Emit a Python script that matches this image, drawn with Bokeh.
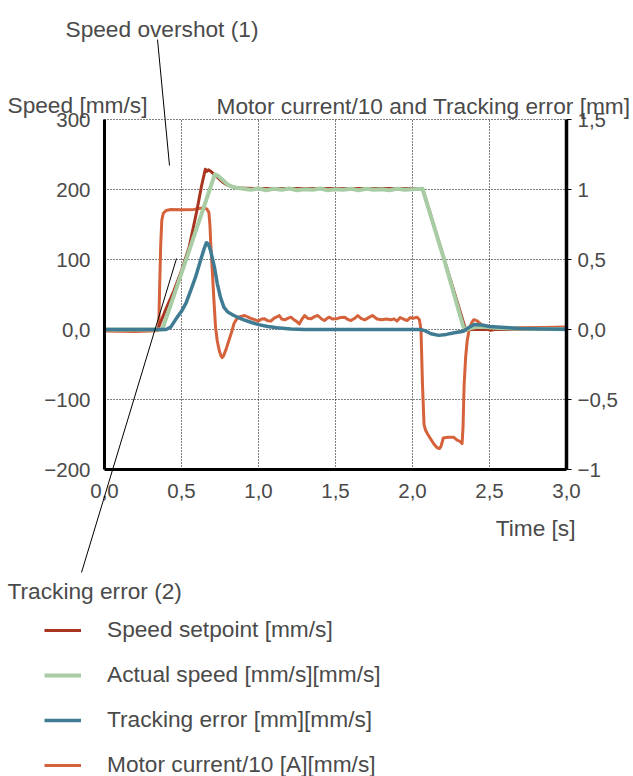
from bokeh.plotting import figure
from bokeh.models import Range1d, LinearAxis, FixedTicker, Legend, LegendItem, Label, Arrow
from bokeh.embed import file_html
from bokeh.resources import INLINE

# ---------------- data ----------------
x_ticks = [0.0, 0.5, 1.0, 1.5, 2.0, 2.5, 3.0]
x_labels = ["0,0", "0,5", "1,0", "1,5", "2,0", "2,5", "3,0"]
y_left_ticks = [-200, -100, 0, 100, 200, 300]
y_left_labels = ["\u2212200", "\u2212100", "0,0", "100", "200", "300"]
y_right_ticks = [-1.0, -0.5, 0.0, 0.5, 1.0, 1.5]
y_right_labels = ["\u22121", "\u22120,5", "0,0", "0,5", "1", "1,5"]

# Speed setpoint [mm/s]
t_setpoint = [0.0, 0.345, 0.40, 0.45, 0.50, 0.55, 0.60, 0.63, 0.655, 0.665, 0.675, 0.69,
              0.705, 0.735, 0.77, 0.80, 0.866, 1.0, 1.5, 2.065, 2.345, 3.0]
v_setpoint = [0, 0, 30, 55, 84, 118, 170, 205, 229, 226, 228, 226,
              223, 217, 210, 206, 202, 201.5, 201.5, 201.5, 0, 0]

# Actual speed [mm/s]
t_actual = [0.0, 0.375, 0.45, 0.55, 0.65, 0.715, 0.725, 0.74, 0.76, 0.78, 0.80, 0.83, 0.87,
            0.90, 0.95, 1.0, 1.05, 1.1, 1.15, 1.2, 1.25, 1.3, 1.35, 1.4, 1.45, 1.5, 1.55,
            1.6, 1.65, 1.7, 1.75, 1.8, 1.85, 1.9, 1.95, 2.0, 2.065, 2.20, 2.33, 2.345,
            2.38, 2.42, 2.47, 2.55, 2.7, 3.0]
v_actual = [0, 0, 48, 113, 178, 221, 221, 219, 215, 211, 207, 204, 202,
            201, 199.5, 201.5, 199, 201, 199.5, 201.5, 199, 200.5, 199.5, 201.5, 199, 200.5, 199.5,
            201, 199, 201, 199.5, 200.5, 199, 201, 199.5, 200.5, 201, 104, 4, -1,
            2, 4, 3.5, 2, 1, 0.5]

# Tracking error [mm] (right axis)
t_error = [0.0, 0.40, 0.43, 0.47, 0.50, 0.53, 0.56, 0.59, 0.62, 0.645, 0.662, 0.675, 0.69,
           0.70, 0.714, 0.732, 0.753, 0.775, 0.80, 0.84, 0.90, 0.95, 1.0, 1.06, 1.12, 1.21,
           1.30, 2.05, 2.08, 2.12, 2.17, 2.22, 2.28, 2.33, 2.36, 2.40, 2.45, 2.50, 2.60,
           2.70, 2.85, 3.0]
v_error = [0.0, 0.0, 0.017, 0.085, 0.13, 0.19, 0.28, 0.37, 0.48, 0.57, 0.62, 0.61, 0.56,
           0.51, 0.445, 0.33, 0.23, 0.16, 0.125, 0.10, 0.07, 0.052, 0.035, 0.021, 0.012, 0.004,
           0.0, 0.0, -0.008, -0.03, -0.042, -0.035, -0.022, -0.012, 0.01, 0.036, 0.032, 0.022, 0.014,
           0.008, 0.004, 0.002]

# Motor current/10 [A] (right axis)
t_current = [0.0, 0.10, 0.20, 0.30, 0.345, 0.352, 0.358, 0.365, 0.372, 0.382, 0.40, 0.43,
             0.50, 0.58, 0.645, 0.665, 0.678, 0.685, 0.69, 0.70, 0.71, 0.721, 0.732, 0.745,
             0.757, 0.764, 0.772, 0.79, 0.807, 0.825, 0.84, 0.855, 0.875, 0.91,
             0.95, 0.975, 1.0, 1.02, 1.04, 1.06, 1.08, 1.10, 1.135, 1.15, 1.17, 1.19, 1.21,
             1.23, 1.245, 1.265, 1.28, 1.30, 1.32, 1.34, 1.36, 1.385, 1.41, 1.43, 1.445,
             1.46, 1.48, 1.505, 1.53, 1.56, 1.58, 1.60, 1.625, 1.645, 1.665, 1.69, 1.715,
             1.74, 1.77, 1.80, 1.83, 1.86, 1.88, 1.90, 1.92, 1.94, 1.965, 1.985, 2.005, 2.03,
             2.045, 2.055, 2.065, 2.075, 2.085, 2.10, 2.117, 2.14, 2.16, 2.175, 2.185, 2.20,
             2.23, 2.268, 2.29, 2.31, 2.322, 2.328, 2.335, 2.345, 2.355, 2.37, 2.385, 2.398,
             2.42, 2.442, 2.475, 2.505, 2.55, 2.7, 2.85, 3.0]
v_current = [-0.01, -0.012, -0.015, -0.01, -0.008, 0.0, 0.3, 0.6, 0.78, 0.83, 0.85, 0.857,
             0.856, 0.858, 0.87, 0.86, 0.835, 0.74, 0.61, 0.42, 0.22, 0.017, -0.08, -0.15,
             -0.19, -0.2, -0.19, -0.14, -0.08, -0.02, 0.04, 0.07, 0.09, 0.10,
             0.08, 0.07, 0.06, 0.075, 0.076, 0.062, 0.06, 0.08, 0.10, 0.075, 0.069, 0.08, 0.088,
             0.07, 0.06, 0.04, 0.07, 0.10, 0.08, 0.076, 0.09, 0.10, 0.075, 0.064, 0.08,
             0.088, 0.075, 0.076, 0.085, 0.088, 0.072, 0.064, 0.08, 0.10, 0.08, 0.069, 0.085,
             0.10, 0.075, 0.069, 0.075, 0.069, 0.076, 0.06, 0.085, 0.075, 0.064, 0.085, 0.08, 0.088,
             0.07, 0.0, -0.4, -0.68, -0.72, -0.75, -0.78, -0.82, -0.845, -0.85, -0.835, -0.775,
             -0.77, -0.77, -0.79, -0.80, -0.815, -0.7, -0.4, -0.2, -0.08, 0.01, 0.05, 0.07,
             0.062, 0.04, 0.01, -0.007, 0.005, 0.012, 0.015, 0.017]

series_names = ["Speed setpoint [mm/s]", "Actual speed [mm/s][mm/s]",
                "Tracking error [mm][mm/s]", "Motor current/10 [A][mm/s]"]

# ---------------- style ----------------
RED = "#a9341f"
GREEN = "#a8cca4"
BLUE = "#3f7c93"
ORANGE = "#d5623b"
TEXT = "#4a4a4a"
FONT = "Liberation Sans"
TEXT_SIZE = "22.7px"

X0, X1 = 0.0, 3.0
Y0, Y1 = -200.0, 300.0
R0, R1 = -1.0, 1.5

W, H = 633, 776
# pixel box of the chart area on the canvas
CL, CR, CT, CB = 104, 566, 119, 469

sx = (CR - CL) / (X1 - X0)
sy = (CB - CT) / (Y1 - Y0)
sr = (CB - CT) / (R1 - R0)


def px_to_x(px):
    return X0 + (px - CL) / sx


def py_to_y(py):
    return Y1 - (py - CT) / sy


p = figure(width=W, height=H, output_backend="svg", toolbar_location=None,
           x_range=Range1d(px_to_x(0), px_to_x(W)), y_range=Range1d(py_to_y(H), py_to_y(0)),
           x_axis_type=None, y_axis_type=None,
           min_border_left=0, min_border_right=0, min_border_top=0, min_border_bottom=0)
p.outline_line_color = None
p.background_fill_color = "white"
p.border_fill_color = "white"
p.grid.visible = False
p.extra_y_ranges = {"right": Range1d(R0 - (H - CB) / sr, R1 + CT / sr)}

# grid (dotted)
gx = x_ticks[1:-1]
p.segment(x0=gx, y0=[Y0] * len(gx), x1=gx, y1=[Y1] * len(gx),
          line_color="#000000", line_dash="1 2", line_width=1)
gy = y_left_ticks[1:]
p.segment(x0=[X0] * len(gy), y0=gy, x1=[X1] * len(gy), y1=gy,
          line_color="#000000", line_dash="1 2", line_width=1)

# axes at fixed locations
ya = LinearAxis(fixed_location=X0, bounds=(Y0, Y1), ticker=FixedTicker(ticks=y_left_ticks))
ya.major_label_overrides = dict(zip(y_left_ticks, y_left_labels))
xa = LinearAxis(fixed_location=Y0, bounds=(X0, X1), ticker=FixedTicker(ticks=x_ticks))
xa.major_label_overrides = dict(zip(x_ticks, x_labels))
ra = LinearAxis(fixed_location=X1, bounds=(R0, R1), y_range_name="right",
                ticker=FixedTicker(ticks=y_right_ticks))
ra.major_label_overrides = dict(zip(y_right_ticks, y_right_labels))

for ax in (xa, ya, ra):
    ax.axis_line_color = "black"
    ax.axis_line_width = 3
    ax.minor_tick_line_color = None
    ax.major_label_text_font = FONT
    ax.major_label_text_font_size = "20.5px"
    ax.major_label_text_color = TEXT
for ax in (xa, ya):
    ax.major_tick_line_color = None
    ax.major_tick_out = 0
    ax.major_tick_in = 0
ya.major_label_standoff = 14
xa.major_label_standoff = 14
ra.axis_line_width = 3.5
ra.major_tick_line_color = "black"
ra.major_tick_line_width = 1
ra.major_tick_out = 5
ra.major_tick_in = 0
ra.major_label_standoff = 6

# lines
r_cur = p.line(t_current, v_current, y_range_name="right", line_color=ORANGE, line_width=3,
               line_join="round")
r_set = p.line(t_setpoint, v_setpoint, line_color=RED, line_width=3, line_join="round")
r_act = p.line(t_actual, v_actual, line_color=GREEN, line_width=4, line_join="round")
r_err = p.line(t_error, v_error, y_range_name="right", line_color=BLUE, line_width=3.5,
               line_join="round")

p.add_layout(ya, "left")
p.add_layout(xa, "below")
p.add_layout(ra, "right")

# legend
legend = Legend(items=[LegendItem(label=series_names[0], renderers=[r_set]),
                       LegendItem(label=series_names[1], renderers=[r_act]),
                       LegendItem(label=series_names[2], renderers=[r_err]),
                       LegendItem(label=series_names[3], renderers=[r_cur])],
                location=(44, -2), orientation="vertical",
                glyph_width=37, glyph_height=26, label_height=26, label_standoff=26,
                spacing=18, padding=0, margin=0, border_line_color=None,
                background_fill_alpha=0, label_text_font=FONT, label_text_font_size=TEXT_SIZE,
                label_text_color=TEXT)
p.add_layout(legend)


# texts
def add_label(text, px, py, align="left"):
    p.add_layout(Label(x=px_to_x(px), y=py_to_y(py), text=text, text_font=FONT,
                       text_font_size=TEXT_SIZE, text_color=TEXT, text_align=align,
                       text_baseline="alphabetic"))


add_label("Speed [mm/s]", 7, 104)
add_label("Motor current/10 and Tracking error [mm]", 216, 105)
add_label("Speed overshot (1)", 65, 28)
add_label("Tracking error (2)", 7, 590)
add_label("Time [s]", 575, 527, align="right")

# pointer lines
for (x_a, y_a, x_b, y_b) in [(157, 39, 169, 165), (81, 572, 176, 258)]:
    p.add_layout(Arrow(end=None, x_start=px_to_x(x_a), y_start=py_to_y(y_a),
                       x_end=px_to_x(x_b), y_end=py_to_y(y_b), line_color="black", line_width=1))

open("out.html", "w").write(file_html(p, INLINE))
